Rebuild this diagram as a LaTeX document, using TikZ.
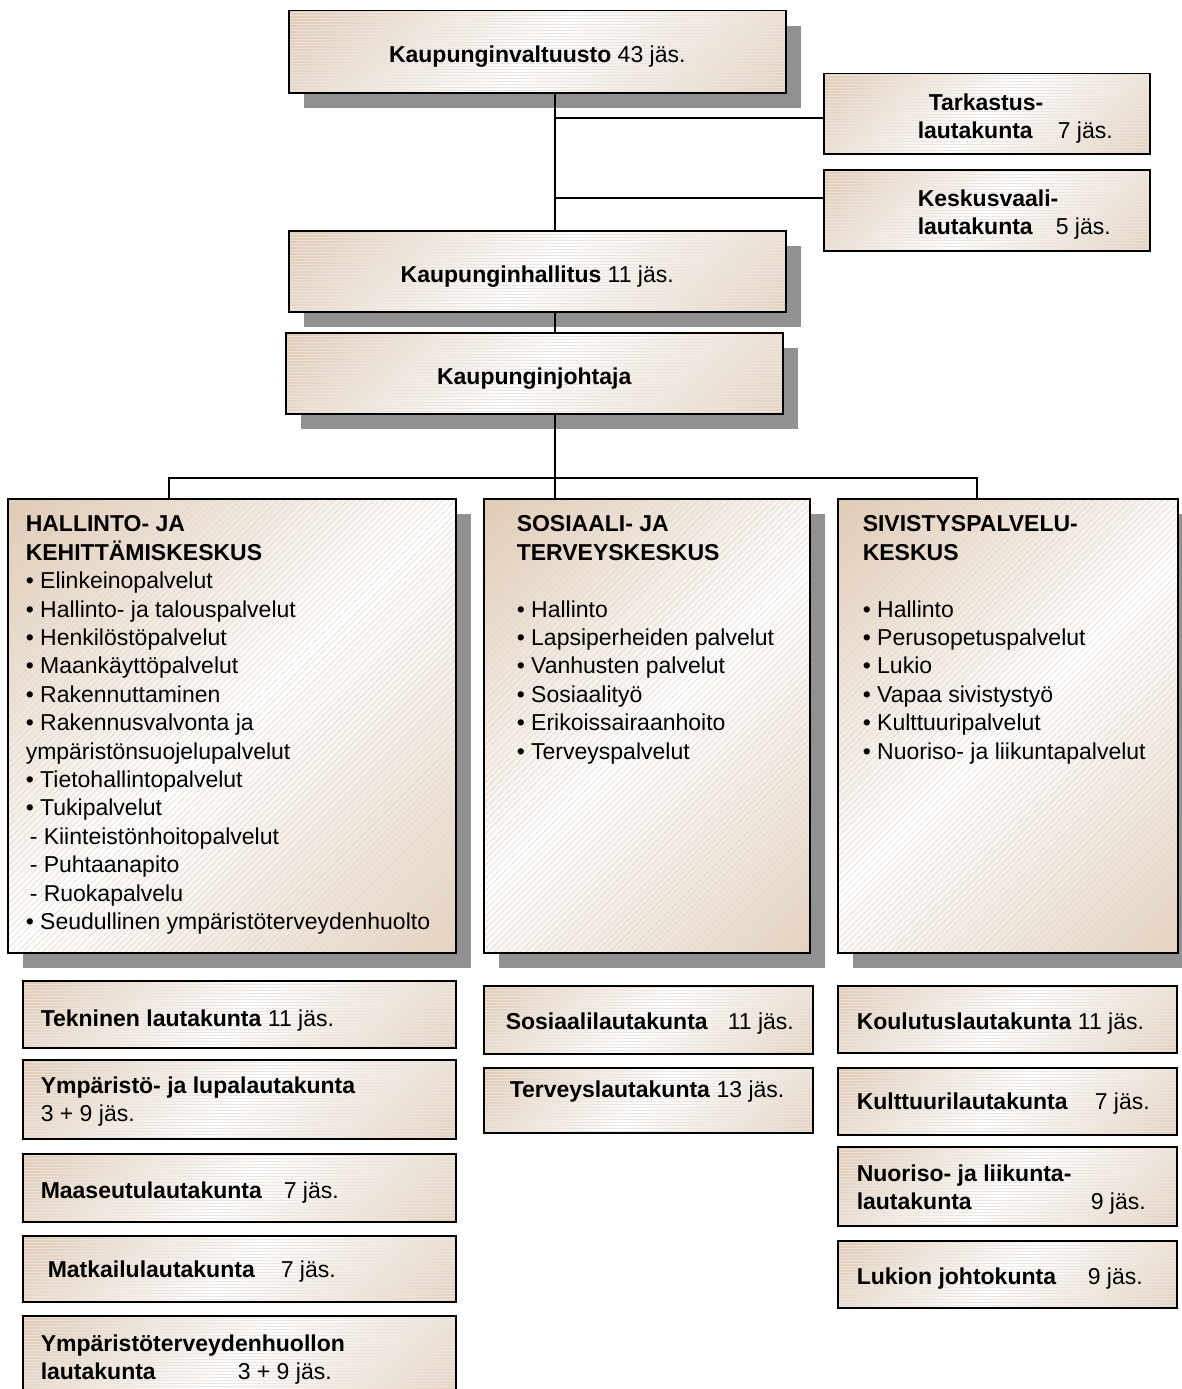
\documentclass[tikz,border=0pt]{standalone}
\usepackage{fontspec}
\setmainfont{Liberation Sans}
\usetikzlibrary{shadows,patterns.meta}
\definecolor{beige}{RGB}{224,201,177}
\definecolor{hatch}{RGB}{205,198,190}
\pgfdeclarehorizontalshading{boxfade}{100bp}{color(0bp)=(beige); color(14bp)=(beige); color(50bp)=(white); color(86bp)=(beige!85); color(100bp)=(beige!85)}
\newcommand{\jas}[2]{\makebox[#1][l]{\textbf{#2}}}

\begin{document}
\begin{tikzpicture}[x=1pt,y=-1pt,line width=1.5pt,
    font=\fontsize{23}{28.4}\selectfont,
    orgbox/.style={draw,anchor=north west,inner sep=0pt,
      shade,shading=boxfade,shading angle=-45},
    flatbox/.style={orgbox,postaction={pattern={Lines[angle=0,distance=3pt,line width=.4pt]},pattern color=hatch!45},
      postaction={draw}},
    topbox/.style={flatbox,drop shadow={shadow xshift=15pt,shadow yshift=-15pt,fill=black!43,opacity=1},
      text height=22pt,text depth=0pt},
    bigbox/.style={orgbox,drop shadow={shadow xshift=15pt,shadow yshift=-15pt,fill=black!43,opacity=1},
      postaction={pattern={Lines[angle=45,distance=4.5pt,line width=.5pt]},pattern color=hatch!70},
      postaction={draw},minimum height=454pt},
    txt/.style={anchor=north west,inner sep=0pt,align=left}]
  \fill[white] (0,0) rectangle (1181,1389);
  \useasboundingbox (0,0) rectangle (1181,1389);
  \coordinate (trunk) at (555,0);
  % valtuusto, hallitus ja johtaja
  \node[topbox,minimum width=497pt,minimum height=82pt] (valt) at (288,10) {\textbf{Kaupunginvaltuusto} 43 jäs.};
  \node[flatbox,minimum width=326pt,minimum height=80pt] (tark) at (823,73) {};
  \node[txt] (tark-t) at ([shift={(94,20)}]tark.north west) {\hspace*{11pt}\textbf{Tarkastus-}\\\jas{140pt}{lautakunta}7 jäs.};
  \node[flatbox,minimum width=326pt,minimum height=81pt] (kvl) at (823,169) {};
  \node[txt] (kvl-t) at ([shift={(94,20)}]kvl.north west) {\textbf{Keskusvaali-}\\\jas{138pt}{lautakunta}5 jäs.};
  \node[topbox,minimum width=497pt,minimum height=81pt] (hall) at (288,230) {\textbf{Kaupunginhallitus} 11 jäs.};
  \node[topbox,minimum width=497pt,minimum height=81pt] (joht) at (285,332) {\textbf{Kaupunginjohtaja}};
  % keskukset
  \node[bigbox,minimum width=448pt] (hkk) at (7,498) {};
  \node[txt] (hkk-t) at ([shift={(18,17)}]hkk.north west) {\textbf{HALLINTO- JA}\\
    \textbf{KEHITTÄMISKESKUS}\\
    \textbullet{} Elinkeinopalvelut\\
    \textbullet{} Hallinto- ja talouspalvelut\\
    \textbullet{} Henkilöstöpalvelut\\
    \textbullet{} Maankäyttöpalvelut\\
    \textbullet{} Rakennuttaminen\\
    \textbullet{} Rakennusvalvonta ja\\
    ympäristönsuojelupalvelut\\
    \textbullet{} Tietohallintopalvelut\\
    \textbullet{} Tukipalvelut\\
    \hspace*{4pt}- Kiinteistönhoitopalvelut\\
    \hspace*{4pt}- Puhtaanapito\\
    \hspace*{4pt}- Ruokapalvelu\\
    \textbullet{} Seudullinen ympäristöterveydenhuolto};
  \node[bigbox,minimum width=326pt] (sos) at (483,498) {};
  \node[txt] (sos-t) at ([shift={(33,17)}]sos.north west) {\textbf{SOSIAALI- JA}\\
    \textbf{TERVEYSKESKUS}\\[28.4pt]
    \textbullet{} Hallinto\\
    \textbullet{} Lapsiperheiden palvelut\\
    \textbullet{} Vanhusten palvelut\\
    \textbullet{} Sosiaalityö\\
    \textbullet{} Erikoissairaanhoito\\
    \textbullet{} Terveyspalvelut};
  \node[bigbox,minimum width=340pt] (siv) at (837,498) {};
  \node[txt] (siv-t) at ([shift={(25,17)}]siv.north west) {\textbf{SIVISTYSPALVELU-}\\
    \textbf{KESKUS}\\[28.4pt]
    \textbullet{} Hallinto\\
    \textbullet{} Perusopetuspalvelut\\
    \textbullet{} Lukio\\
    \textbullet{} Vapaa sivistystyö\\
    \textbullet{} Kulttuuripalvelut\\
    \textbullet{} Nuoriso- ja liikuntapalvelut};
  % lautakunnat
  \node[flatbox,minimum width=433pt,minimum height=67pt] (tek) at (22,980) {};
  \node[txt] (tek-t) at ([shift={(18,29)}]tek.north west) {\textbf{Tekninen lautakunta} 11 jäs.};
  \node[flatbox,minimum width=433pt,minimum height=79pt] (ylu) at (22,1059) {};
  \node[txt] (ylu-t) at ([shift={(18,17)}]ylu.north west) {\textbf{Ympäristö- ja lupalautakunta}\\3 + 9 jäs.};
  \node[flatbox,minimum width=433pt,minimum height=68pt] (mas) at (22,1153) {};
  \node[txt] (mas-t) at ([shift={(18,28)}]mas.north west) {\jas{243pt}{Maaseutulautakunta}7 jäs.};
  \node[flatbox,minimum width=433pt,minimum height=66pt] (mat) at (22,1235) {};
  \node[txt] (mat-t) at ([shift={(25,25)}]mat.north west) {\jas{233pt}{Matkailulautakunta}7 jäs.};
  \node[flatbox,minimum width=433pt,minimum height=90pt] (ytl) at (22,1315) {};
  \node[txt] (ytl-t) at ([shift={(18,19)}]ytl.north west) {\textbf{Ympäristöterveydenhuollon}\\\jas{197pt}{lautakunta}3 + 9 jäs.};
  \node[flatbox,minimum width=329pt,minimum height=68pt] (sosl) at (483,985) {};
  \node[txt] (sosl-t) at ([shift={(22,27)}]sosl.north west) {\jas{222pt}{Sosiaalilautakunta}11 jäs.};
  \node[flatbox,minimum width=329pt,minimum height=65pt] (ter) at (483,1067) {};
  \node[txt] (ter-t) at ([shift={(26,13)}]ter.north west) {\textbf{Terveyslautakunta} 13 jäs.};
  \node[flatbox,minimum width=339pt,minimum height=67pt] (kou) at (837,985) {};
  \node[txt] (kou-t) at ([shift={(19,27)}]kou.north west) {\textbf{Koulutuslautakunta} 11 jäs.};
  \node[flatbox,minimum width=339pt,minimum height=67pt] (kul) at (837,1067) {};
  \node[txt] (kul-t) at ([shift={(19,25)}]kul.north west) {\jas{238pt}{Kulttuurilautakunta}7 jäs.};
  \node[flatbox,minimum width=339pt,minimum height=79pt] (nuo) at (837,1146) {};
  \node[txt] (nuo-t) at ([shift={(19,18)}]nuo.north west) {\textbf{Nuoriso- ja liikunta-}\\\jas{234pt}{lautakunta}9 jäs.};
  \node[flatbox,minimum width=339pt,minimum height=67pt] (luk) at (837,1240) {};
  \node[txt] (luk-t) at ([shift={(19,27)}]luk.north west) {\jas{231pt}{Lukion johtokunta}9 jäs.};
  % yhdysviivat
  \draw (valt.south -| trunk) -- (hall.north -| trunk);
  \draw ([yshift=-4pt]tark.west -| trunk) -- ([yshift=-4pt]tark.west);
  \draw ([yshift=12.5pt]kvl.west -| trunk) -- ([yshift=12.5pt]kvl.west);
  \draw (hall.south -| trunk) -- (joht.north -| trunk);
  \draw (joht.south -| trunk) -- (sos.north -| trunk);
  \draw ([xshift=-63pt]hkk.north) |- ([yshift=20pt]sos.north -| trunk) -| ([xshift=-31pt]siv.north);
\end{tikzpicture}
\end{document}
